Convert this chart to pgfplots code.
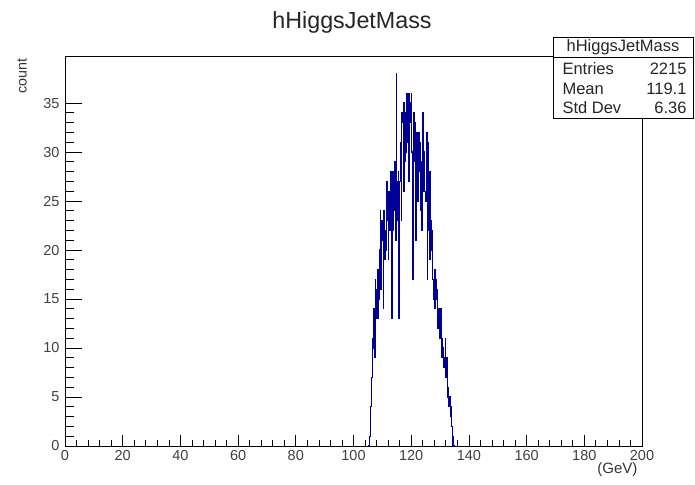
\documentclass[border=0pt]{standalone}
\usepackage{pgfplots}
\pgfplotsset{compat=1.18}
\usepackage{pgfplotstable}
\usepackage{fontspec}
\setmainfont{Liberation Sans}
\definecolor{roothist}{RGB}{0,0,150}
\pgfplotstableread{
x y
105.00 0
105.25 0
105.50 1
105.75 2
106.00 4
106.25 7
106.50 10
106.75 11
107.00 14
107.25 9
107.50 17
107.75 13
108.00 16
108.25 13
108.50 18
108.75 15
109.00 20
109.25 24
109.50 16
109.75 23
110.00 21
110.25 14
110.50 24
110.75 19
111.00 22
111.25 20
111.50 27
111.75 23
112.00 19
112.25 26
112.50 22
112.75 28
113.00 25
113.25 13
113.50 28
113.75 22
114.00 24
114.25 29
114.50 21
114.75 38
115.00 27
115.25 23
115.50 28
115.75 13
116.00 27
116.25 31
116.50 23
116.75 34
117.00 33
117.25 26
117.50 35
117.75 29
118.00 34
118.25 30
118.50 36
118.75 31
119.00 36
119.25 27
119.50 35
119.75 33
120.00 36
120.25 30
120.50 17
120.75 34
121.00 29
121.25 33
121.50 21
121.75 32
122.00 30
122.25 25
122.50 32
122.75 28
123.00 31
123.25 24
123.50 29
123.75 22
124.00 34
124.25 26
124.50 30
124.75 26
125.00 25
125.25 32
125.50 17
125.75 31
126.00 22
126.25 28
126.50 19
126.75 23
127.00 20
127.25 22
127.50 17
127.75 15
128.00 18
128.25 14
128.50 17
128.75 15
129.00 16
129.25 12
129.50 14
129.75 11
130.00 12
130.25 14
130.50 9
130.75 11
131.00 10
131.25 8
131.50 9
131.75 11
132.00 7
132.25 9
132.50 5
132.75 6
133.00 4
133.25 5
133.50 3
133.75 4
134.00 2
134.25 1
134.50 0
134.75 0
135.00 0
}\histdata
\begin{document}
\begin{tikzpicture}
\begin{axis}[
  at={(0pt,0pt)}, anchor=south west,
  scale only axis,
  width=577pt, height=390pt,
  xmin=0, xmax=200, ymin=0, ymax=39.8,
  axis line style={line width=0.8pt},
  xtick={0,20,...,200}, minor x tick num=4,
  ytick={0,5,...,35}, minor y tick num=4,
  tick pos=left, tick align=inside,
  x tick style={/pgfplots/major tick length=11pt,/pgfplots/minor tick length=6pt, line width=0.7pt, black},
  y tick style={/pgfplots/major tick length=17pt,/pgfplots/minor tick length=9pt, line width=0.7pt, black},
  /pgf/number format/assume math mode=true,
  ticklabel style={font=\fontsize{14.5}{16}\selectfont, text=black!75},
  xticklabel style={yshift=-1pt},
  yticklabel style={xshift=-2pt},
  clip=false,
]
\addplot[const plot mark left, color=roothist, line width=1.1pt] table[x=x,y=y] {\histdata};
\end{axis}
% title
\node[font=\fontsize{23.3}{26}\selectfont, text=black!85] at (287pt,424pt) {hHiggsJetMass};
% axis labels
\node[font=\fontsize{14.3}{16}\selectfont, rotate=90, anchor=east, text=black!80] at (-43pt,391pt) {count};
\node[font=\fontsize{15}{17}\selectfont, anchor=east, text=black!80] at (576pt,-24pt) {(GeV)};
% stats box
\begin{scope}[line width=0.7pt]
\draw[fill=white] (488pt,328pt) rectangle (628pt,409pt);
\draw (488pt,389pt) -- (628pt,389pt);
\end{scope}
\node[font=\fontsize{16.5}{18}\selectfont, text=black!85] at (558pt,399pt) {hHiggsJetMass};
\node[font=\fontsize{16.5}{18}\selectfont, anchor=west, text=black!85] at (494pt,377pt) {Entries};
\node[font=\fontsize{16.5}{18}\selectfont, anchor=east, text=black!85] at (625pt,377pt) {2215};
\node[font=\fontsize{16.5}{18}\selectfont, anchor=west, text=black!85] at (494pt,357pt) {Mean};
\node[font=\fontsize{16.5}{18}\selectfont, anchor=east, text=black!85] at (625pt,357pt) {119.1};
\node[font=\fontsize{16.5}{18}\selectfont, anchor=west, text=black!85] at (494pt,338pt) {Std Dev};
\node[font=\fontsize{16.5}{18}\selectfont, anchor=east, text=black!85] at (625pt,338pt) {6.36};
\pgfresetboundingbox
\path (-65pt,-38pt) rectangle (630pt,446pt);
\end{tikzpicture}
\end{document}
